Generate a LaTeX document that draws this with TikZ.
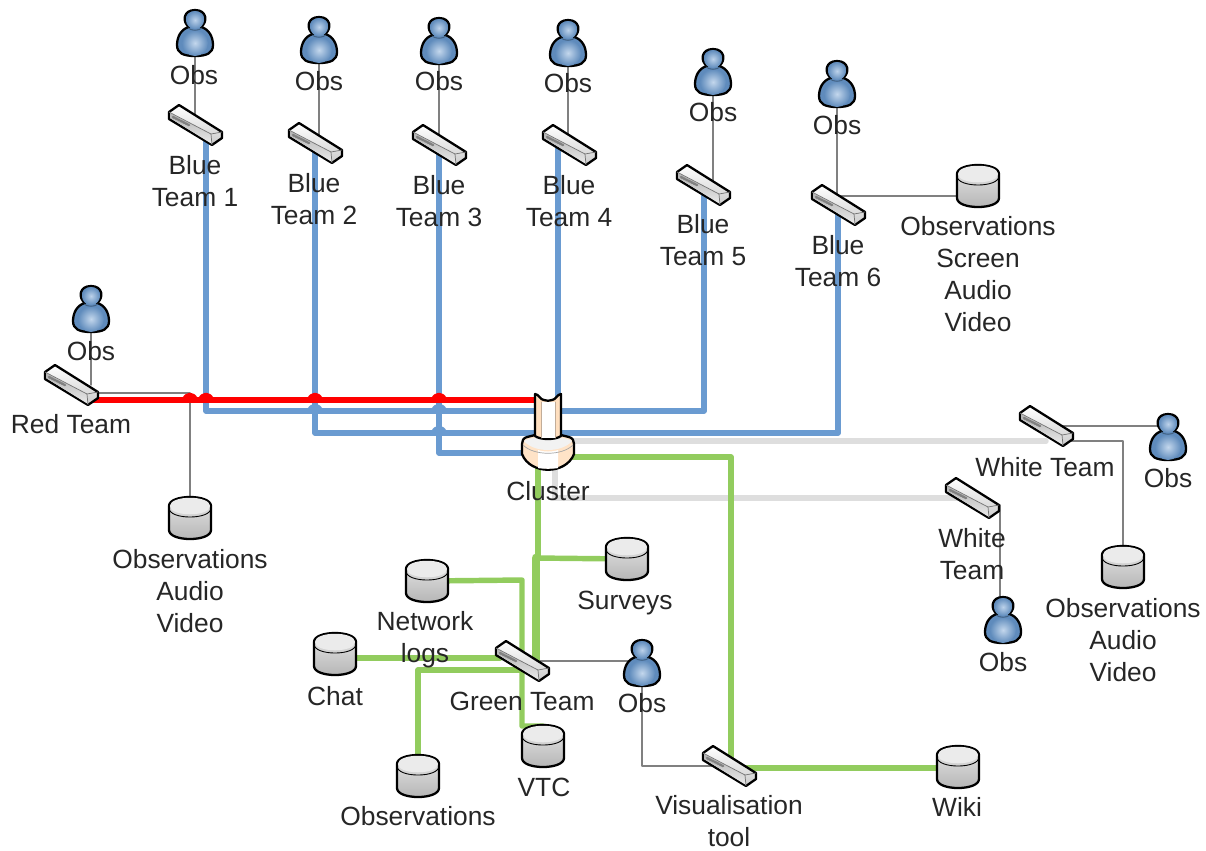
\documentclass[tikz,border=0pt]{standalone}
\usepackage{fontspec}
\setmainfont{Liberation Sans}
\definecolor{bluelk}{HTML}{6A9BD1}
\definecolor{greenlk}{HTML}{92CC5E}
\definecolor{whitelk}{HTML}{DEDEDE}
\definecolor{thinlk}{HTML}{808080}
\definecolor{txtcol}{HTML}{262626}
\tikzset{
  bluelink/.style={draw=bluelk,line width=3.1pt},
  redlink/.style={draw=red,line width=3.1pt},
  greenlink/.style={draw=greenlk,line width=3.1pt},
  whitelink/.style={draw=whitelk,line width=3.1pt},
  thinlink/.style={draw=thinlk,line width=0.8pt},
  lbl/.style={inner sep=0pt,align=center,text=txtcol,font=\fontsize{15}{18.2}\selectfont},
  outline/.style={draw=black,line width=1.3pt},
  obsicon/.pic={
    \path[outline,fill=bluelk!90!black]
      (-6,-6) .. controls (-14,-4) and (-18,4) .. (-18,12)
      .. controls (-18,20) and (-12,23) .. (0,23)
      .. controls (12,23) and (18,20) .. (18,12)
      .. controls (18,4) and (14,-4) .. (6,-6)
      .. controls (13,-11) and (12,-23) .. (0,-23)
      .. controls (-12,-23) and (-13,-11) .. (-6,-6) -- cycle;
    \shade[inner color=bluelk!45,outer color=bluelk!90!black] (0,-13) circle (9);
    \shade[inner color=bluelk!40,outer color=bluelk!90!black] (0,10) circle (13);
    \draw[bluelk!60!black,line width=0.5pt] (-7,-5) .. controls (-3,-2) and (3,-2) .. (7,-5);
  },
  switchicon/.pic={
    \shade[outline,top color=white,bottom color=black!20]
      (-26,-13) -- (-16,-20) -- (27,7) -- (27,13) -- (17,20) -- (-26,-6) -- cycle;
    \shade[top color=black!30,bottom color=black!8]
      (-25,-12) -- (16,9) -- (17,19) -- (-25,-7) -- cycle;
    \draw[black!55,line width=0.4pt] (-26,-13) -- (16,9) -- (27,7);
    \draw[black!55,line width=0.4pt] (16,9) -- (17,20);
    \draw[black!50,line width=1.4pt,dash pattern=on 1pt off 0.6pt] (-22,-8) -- (-6,0);
  },
  dbicon/.pic={
    \shade[outline,top color=black!8,bottom color=black!30]
      (-21,-12) -- (-21,12) .. controls (-21,24) and (21,24) .. (21,12) -- (21,-12)
      .. controls (21,-24) and (-21,-24) .. (-21,-12) -- cycle;
    \fill[black!8] (-20,-12) .. controls (-20,-1) and (20,-1) .. (20,-12)
      .. controls (20,-23) and (-20,-23) .. (-20,-12) -- cycle;
    \draw[black,line width=0.5pt] (-21,-10) .. controls (-21,2) and (21,2) .. (21,-10);
  },
  clustericon/.pic={
    \path[outline,fill=orange!22!white]
      (-13,3) -- (-21,5) .. controls (-25,6) and (-26,9) .. (-26,12) -- (-26,22)
      .. controls (-18,43) and (18,43) .. (26,22) -- (26,12)
      .. controls (26,9) and (25,6) .. (21,5) -- (13,3) -- cycle;
    \fill[white] (-10,18) .. controls (-5,20) and (5,20) .. (10,18) -- (10,36)
      .. controls (5,37) and (-5,37) .. (-10,36) -- cycle;
    \fill[black!5] (-24,9) .. controls (-14,21) and (14,21) .. (24,9)
      .. controls (14,3) and (-14,3) .. (-24,9) -- cycle;
    \draw[black!35,line width=0.4pt] (-25,13) .. controls (-14,24) and (14,24) .. (25,13);
    \path[outline,fill=orange!25!white]
      (-13,-38) .. controls (-9,-38) and (-8,-32) .. (-4,-32)
      .. controls (-1,-31) and (1,-31) .. (4,-32)
      .. controls (8,-32) and (9,-38) .. (13,-38) -- (13,4)
      .. controls (8,8) and (-8,8) .. (-13,4) -- cycle;
    \fill[white] (-7,-30) rectangle (7,6);
    \draw[orange!40!black!40,line width=0.4pt] (-7,-30) -- (-7,6) (7,-30) -- (7,6);
  }
}

\begin{document}
\begin{tikzpicture}[line cap=round,line join=round,x=0.02cm,y=-0.02cm]
  \useasboundingbox (0,0) rectangle (1206,850);

  % switches
  \coordinate (blue1) at (195,125);
  \coordinate (blue2) at (315,143);
  \coordinate (blue3) at (439,145);
  \coordinate (blue4) at (569,145);
  \coordinate (blue5) at (703,185);
  \coordinate (blue6) at (838,205);
  \coordinate (redsw) at (71,385);
  \coordinate (white1) at (1046,426);
  \coordinate (white2) at (972,498);
  \coordinate (greensw) at (522,661);
  \coordinate (vissw) at (729,766);
  \coordinate (cluster) at (548,432);

  % observers
  \coordinate (obs1) at (195,33);
  \coordinate (obs2) at (319,40);
  \coordinate (obs3) at (439,41);
  \coordinate (obs4) at (568,43);
  \coordinate (obs5) at (713,72);
  \coordinate (obs6) at (837,84);
  \coordinate (obsred) at (91,309);
  \coordinate (obswa) at (1168,437);
  \coordinate (obswb) at (1003,620);
  \coordinate (obsgreen) at (642,663);

  % databases
  \coordinate (dbblue) at (978,186);
  \coordinate (dbred) at (190,518);
  \coordinate (dbwhite) at (1123,567);
  \coordinate (surveys) at (627,559);
  \coordinate (netlogs) at (427,581);
  \coordinate (chat) at (335,654);
  \coordinate (vtc) at (543,746);
  \coordinate (dbgreen) at (418,776);
  \coordinate (wiki) at (958,767);

  % thin links
  \foreach \a/\b in {obs1/blue1,obs2/blue2,obs3/blue3,obs4/blue4,obs5/blue5,obs6/blue6,obsred/redsw}{
    \draw[thinlink] (\a) -- (\a |- \b);
  }
  \coordinate (pt) at (838,196);
  \draw[thinlink] (pt) -- (dbblue |- pt);
  \draw[thinlink] (redsw) ++(20,8) -| (dbred);
  \draw[thinlink] (white1) -- (obswa |- white1) -- (obswa);
  \draw[thinlink] (white1) ++(10,15) -| (dbwhite);
  \draw[thinlink] (white2) ++(28,7) |- (obswb);
  \draw[thinlink] (greensw) -- (obsgreen |- greensw);
  \draw[thinlink] (obsgreen) |- (vissw);

  % team links
  \coordinate (pa) at (535,411);
  \coordinate (pb) at (535,433);
  \coordinate (pc) at (535,453);
  \coordinate (pd) at (560,411);
  \coordinate (pe) at (560,433);
  \draw[bluelink] (blue1) ++(11,5) |- (pa);
  \draw[bluelink] (blue2) ++(0,5) |- (pb);
  \draw[bluelink] (blue3) ++(0,5) |- (pc);
  \draw[bluelink] (blue4) ++(-11,0) -- ++(0,260);
  \draw[bluelink] (blue5) ++(1,5) |- (pd);
  \draw[bluelink] (blue6) |- (pe);
  \foreach \x/\y in {315/411,439/411,439/433}{
    \draw[bluelink] (\x-6,\y) .. controls (\x-3,\y-6) and (\x+3,\y-6) .. (\x+6,\y);
  }

  \coordinate (pr) at (535,400);
  \draw[redlink] (redsw) ++(16,15) -- (pr);
  \foreach \x in {190,206,315,439}{
    \draw[redlink] (\x-6,400) .. controls (\x-3,394) and (\x+3,394) .. (\x+6,400);
  }

  \coordinate (pw) at (560,441);
  \coordinate (px) at (555,465);
  \draw[whitelink] (pw) -- (pw -| white1) ++(9,0);
  \draw[whitelink] (px) |- (white2);

  \coordinate (pg) at (536,558);
  \coordinate (pn) at (522,580);
  \coordinate (pv) at (522,726);
  \coordinate (pch) at (500,658);
  \coordinate (pob) at (520,670);
  \draw[greenlink] (cluster) ++(-10,30) -- ++(0,95);
  \draw[greenlink,line width=5pt] (pg) -- (pg |- greensw);
  \draw[greenlink] (pg) -- (surveys);
  \draw[greenlink] (netlogs) -- (pn) -- (pv) -- (vtc |- pv);
  \draw[greenlink] (chat |- pch) -- (pch);
  \draw[greenlink] (dbgreen) |- (pob);
  \draw[greenlink] (vissw) ++(2,0) |- (cluster |- 0,457);
  \draw[greenlink] (vissw) ++(10,2) -- (wiki |- 0,768);

  % icons
  \foreach \n in {obs1,obs2,obs3,obs4,obs5,obs6,obsred,obswa,obswb,obsgreen}{
    \pic at (\n) {obsicon};
  }
  \foreach \n in {blue1,blue2,blue3,blue4,blue5,blue6,redsw,white1,white2,greensw,vissw}{
    \pic at (\n) {switchicon};
  }
  \foreach \n in {dbblue,dbred,dbwhite,surveys,netlogs,chat,vtc,dbgreen,wiki}{
    \pic at (\n) {dbicon};
  }
  \pic at (cluster) {clustericon};

  % labels
  \node[lbl] (tobs1) at (194,75) {Obs};
  \node[lbl] (tobs2) at (319,81) {Obs};
  \node[lbl] (tobs3) at (439,81) {Obs};
  \node[lbl] (tobs4) at (568,83) {Obs};
  \node[lbl] (tobs5) at (713,112) {Obs};
  \node[lbl] (tobs6) at (837,125) {Obs};
  \node[lbl] (tobsred) at (91,351) {Obs};
  \node[lbl] (tobswa) at (1168,478) {Obs};
  \node[lbl] (tobswb) at (1003,662) {Obs};
  \node[lbl] (tobsgreen) at (642,703) {Obs};
  \node[lbl] (tblue1) at (195,181) {Blue\\Team 1};
  \node[lbl] (tblue2) at (314,199) {Blue\\Team 2};
  \node[lbl] (tblue3) at (439,201) {Blue\\Team 3};
  \node[lbl] (tblue4) at (569,201) {Blue\\Team 4};
  \node[lbl] (tblue5) at (703,240) {Blue\\Team 5};
  \node[lbl] (tblue6) at (838,261) {Blue\\Team 6};
  \node[lbl] (tred) at (71,424) {Red Team};
  \node[lbl] (twhitea) at (1045,467) {White Team};
  \node[lbl] (twhiteb) at (972,554) {White\\Team};
  \node[lbl] (tcluster) at (548,491) {Cluster};
  \node[lbl] (tgreen) at (522,701) {Green Team};
  \node[lbl] (tchat) at (335,696) {Chat};
  \node[lbl] (tnet) at (425,640) {Network\\logs};
  \node[lbl] (tsurveys) at (625,603) {Surveys};
  \node[lbl] (tvtc) at (544,787) {VTC};
  \node[lbl] (tdbgreen) at (418,816) {Observations};
  \node[lbl] (tvis) at (729,821) {Visualisation\\tool};
  \node[lbl] (twiki) at (957,807) {Wiki};
  \node[lbl] (tdbred) at (190,591) {Observations\\Audio\\Video};
  \node[lbl] (tdbblue) at (978,274) {Observations\\Screen\\Audio\\Video};
  \node[lbl] (tdbwhite) at (1123,640) {Observations\\Audio\\Video};
\end{tikzpicture}
\end{document}
